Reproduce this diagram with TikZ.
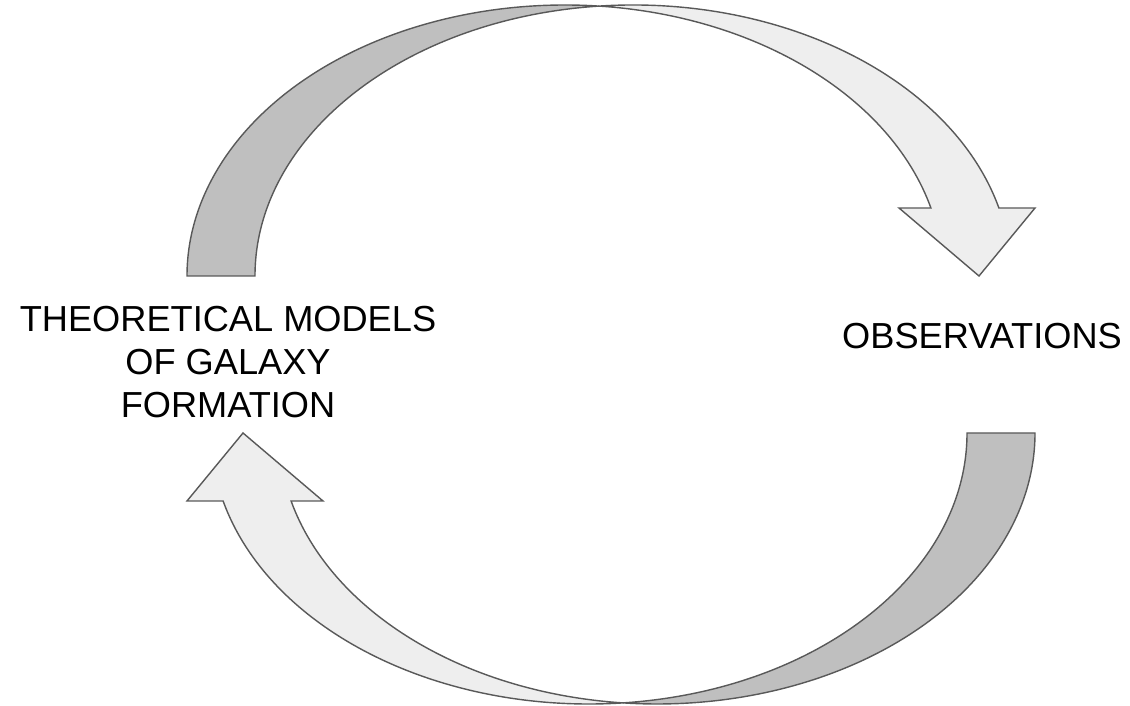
\documentclass[tikz,border=0pt]{standalone}
\usepackage{fontspec}
\setmainfont{Liberation Sans}
\usetikzlibrary{positioning}
\definecolor{rimgray}{HTML}{595959}
\definecolor{backgray}{HTML}{BFBFBF}
\definecolor{frontgray}{HTML}{EEEEEE}

\begin{document}
\begin{tikzpicture}[line join=miter,
                    back part/.style={draw=rimgray,fill=backgray,line width=0.8pt},
                    front part/.style={draw=rimgray,fill=frontgray,line width=0.8pt},
                    label node/.style={align=center,anchor=base,inner sep=0pt,
                                       font=\fontsize{20.6}{24.6}\selectfont}
                   ]
   \useasboundingbox (0,0) rectangle (22.6,14.12);

   % two equal half ellipses, shifted by the band width, cross at the top
   % the lower arrow is the upper one turned round
   \foreach \ang in {0,180}{
     \begin{scope}[rotate around={\ang:(12.22,7.03)}]
       \draw[back part] (3.74,8.6) arc[start angle=180,end angle=84.84,x radius=7.56,y radius=5.42]
            arc[start angle=95.16,end angle=180,x radius=7.56,y radius=5.42] -- cycle;
       \draw[front part] (11.98,13.998) arc[start angle=95.16,end angle=14.53,x radius=7.56,y radius=5.42]
            -- (20.7,9.96) -- (19.58,8.6) -- (17.98,9.96) -- (18.618,9.96)
            arc[start angle=14.53,end angle=84.84,x radius=7.56,y radius=5.42] -- cycle;
     \end{scope}
   }

   \node[label node] (theory) at (4.56,5.76) {THEORETICAL MODELS\\OF GALAXY\\FORMATION};
   \node[label node] (obs) at (19.64,7.14) {OBSERVATIONS};
\end{tikzpicture}
\end{document}
